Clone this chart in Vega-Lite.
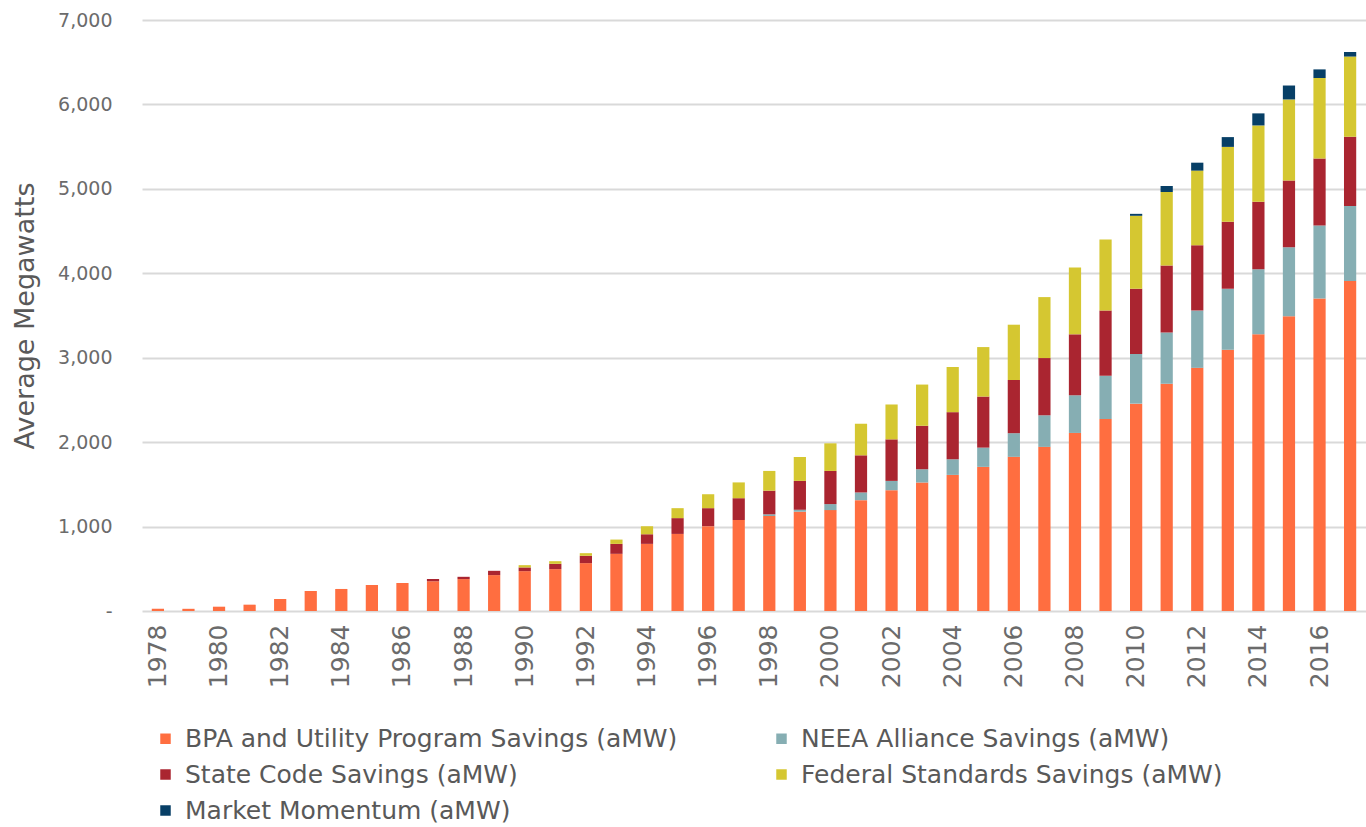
{
  "$schema": "https://vega.github.io/schema/vega-lite/v6.json",
  "width": 1224,
  "height": 591,
  "autosize": {"type": "none"},
  "padding": {"left": 142, "top": 20, "right": 0, "bottom": 216},
  "background": "white",
  "datasets": {
    "series": [
      {"k": "bpa", "label": "BPA and Utility Program Savings (aMW)", "rank": 1},
      {"k": "neea", "label": "NEEA Alliance Savings (aMW)", "rank": 2},
      {"k": "state", "label": "State Code Savings (aMW)", "rank": 3},
      {"k": "fed", "label": "Federal Standards Savings (aMW)", "rank": 4},
      {"k": "mm", "label": "Market Momentum (aMW)", "rank": 5}
    ]
  },
  "data": {
    "values": [
      {"year": 1978, "bpa": 28, "neea": 0, "state": 0, "fed": 0, "mm": 0},
      {"year": 1979, "bpa": 26, "neea": 0, "state": 0, "fed": 0, "mm": 0},
      {"year": 1980, "bpa": 51, "neea": 0, "state": 0, "fed": 0, "mm": 0},
      {"year": 1981, "bpa": 75, "neea": 0, "state": 0, "fed": 0, "mm": 0},
      {"year": 1982, "bpa": 142, "neea": 0, "state": 0, "fed": 0, "mm": 0},
      {"year": 1983, "bpa": 237, "neea": 0, "state": 0, "fed": 0, "mm": 0},
      {"year": 1984, "bpa": 261, "neea": 0, "state": 0, "fed": 0, "mm": 0},
      {"year": 1985, "bpa": 308, "neea": 0, "state": 0, "fed": 0, "mm": 0},
      {"year": 1986, "bpa": 332, "neea": 0, "state": 0, "fed": 0, "mm": 0},
      {"year": 1987, "bpa": 352, "neea": 0, "state": 27, "fed": 0, "mm": 0},
      {"year": 1988, "bpa": 378, "neea": 0, "state": 27, "fed": 0, "mm": 0},
      {"year": 1989, "bpa": 425, "neea": 0, "state": 51, "fed": 0, "mm": 0},
      {"year": 1990, "bpa": 472, "neea": 0, "state": 44, "fed": 27, "mm": 0},
      {"year": 1991, "bpa": 496, "neea": 0, "state": 63, "fed": 31, "mm": 0},
      {"year": 1992, "bpa": 567, "neea": 0, "state": 87, "fed": 31, "mm": 0},
      {"year": 1993, "bpa": 677, "neea": 0, "state": 118, "fed": 51, "mm": 0},
      {"year": 1994, "bpa": 795, "neea": 0, "state": 114, "fed": 95, "mm": 0},
      {"year": 1995, "bpa": 913, "neea": 0, "state": 187, "fed": 118, "mm": 0},
      {"year": 1996, "bpa": 1005, "neea": 0, "state": 213, "fed": 165, "mm": 0},
      {"year": 1997, "bpa": 1078, "neea": 0, "state": 258, "fed": 187, "mm": 0},
      {"year": 1998, "bpa": 1125, "neea": 20, "state": 280, "fed": 234, "mm": 0},
      {"year": 1999, "bpa": 1176, "neea": 23, "state": 342, "fed": 283, "mm": 0},
      {"year": 2000, "bpa": 1195, "neea": 71, "state": 393, "fed": 327, "mm": 0},
      {"year": 2001, "bpa": 1313, "neea": 91, "state": 440, "fed": 374, "mm": 0},
      {"year": 2002, "bpa": 1431, "neea": 110, "state": 492, "fed": 413, "mm": 0},
      {"year": 2003, "bpa": 1522, "neea": 157, "state": 515, "fed": 488, "mm": 0},
      {"year": 2004, "bpa": 1612, "neea": 185, "state": 558, "fed": 535, "mm": 0},
      {"year": 2005, "bpa": 1707, "neea": 228, "state": 605, "fed": 586, "mm": 0},
      {"year": 2006, "bpa": 1826, "neea": 280, "state": 630, "fed": 655, "mm": 0},
      {"year": 2007, "bpa": 1944, "neea": 374, "state": 678, "fed": 722, "mm": 0},
      {"year": 2008, "bpa": 2109, "neea": 446, "state": 722, "fed": 793, "mm": 0},
      {"year": 2009, "bpa": 2274, "neea": 512, "state": 772, "fed": 842, "mm": 0},
      {"year": 2010, "bpa": 2456, "neea": 589, "state": 771, "fed": 865, "mm": 23},
      {"year": 2011, "bpa": 2693, "neea": 606, "state": 794, "fed": 869, "mm": 71},
      {"year": 2012, "bpa": 2880, "neea": 678, "state": 775, "fed": 883, "mm": 94},
      {"year": 2013, "bpa": 3094, "neea": 722, "state": 794, "fed": 887, "mm": 116},
      {"year": 2014, "bpa": 3277, "neea": 771, "state": 798, "fed": 905, "mm": 143},
      {"year": 2015, "bpa": 3491, "neea": 816, "state": 793, "fed": 959, "mm": 165},
      {"year": 2016, "bpa": 3700, "neea": 865, "state": 794, "fed": 954, "mm": 102},
      {"year": 2017, "bpa": 3910, "neea": 887, "state": 820, "fed": 950, "mm": 54}
    ]
  },
  "transform": [
    {"fold": ["bpa", "neea", "state", "fed", "mm"], "as": ["k", "v"]},
    {"lookup": "k", "from": {"data": {"name": "series"}, "key": "k", "fields": ["label", "rank"]}}
  ],
  "mark": {"type": "bar"},
  "encoding": {
    "x": {
      "field": "year",
      "type": "ordinal",
      "scale": {"paddingInner": 0.6, "paddingOuter": 0.32},
      "axis": {
        "title": null,
        "values": [1978, 1980, 1982, 1984, 1986, 1988, 1990, 1992, 1994, 1996, 1998, 2000, 2002, 2004, 2006, 2008, 2010, 2012, 2014, 2016],
        "labelAngle": 270,
        "labelFont": "DejaVu Sans",
        "labelFontSize": 25,
        "labelColor": "#6b6b6b",
        "labelPadding": 13,
        "ticks": false,
        "domain": false,
        "grid": false
      }
    },
    "y": {
      "field": "v",
      "type": "quantitative",
      "stack": "zero",
      "scale": {"domain": [0, 7000], "nice": false},
      "axis": {
        "title": "Average Megawatts",
        "titleFont": "DejaVu Sans",
        "titleFontSize": 27,
        "titleFontWeight": "normal",
        "titleColor": "#595959",
        "titlePadding": 18,
        "values": [0, 1000, 2000, 3000, 4000, 5000, 6000, 7000],
        "labelExpr": "datum.value == 0 ? '-' : format(datum.value, ',')",
        "labelFont": "DejaVu Sans",
        "labelFontSize": 19,
        "labelColor": "#6b6b6b",
        "labelPadding": 30,
        "ticks": false,
        "domain": false,
        "grid": true,
        "gridColor": "#d9d9d9",
        "gridWidth": 2
      }
    },
    "color": {
      "field": "label",
      "type": "nominal",
      "scale": {
        "domain": ["BPA and Utility Program Savings (aMW)", "NEEA Alliance Savings (aMW)", "State Code Savings (aMW)", "Federal Standards Savings (aMW)", "Market Momentum (aMW)"],
        "range": ["#FF6E40", "#86AEB3", "#AA2530", "#D5C731", "#073F66"]
      },
      "legend": {
        "title": null,
        "orient": "none",
        "legendX": 11,
        "legendY": 706,
        "direction": "horizontal",
        "columns": 2,
        "columnPadding": 91,
        "rowPadding": 10,
        "symbolType": "square",
        "symbolSize": 110,
        "symbolStrokeWidth": 0,
        "labelFont": "DejaVu Sans",
        "labelFontSize": 25,
        "labelColor": "#595959",
        "labelOffset": 7,
        "labelLimit": 0
      }
    },
    "order": {"field": "rank", "type": "quantitative", "sort": "ascending"}
  },
  "config": {"view": {"stroke": null}}
}
